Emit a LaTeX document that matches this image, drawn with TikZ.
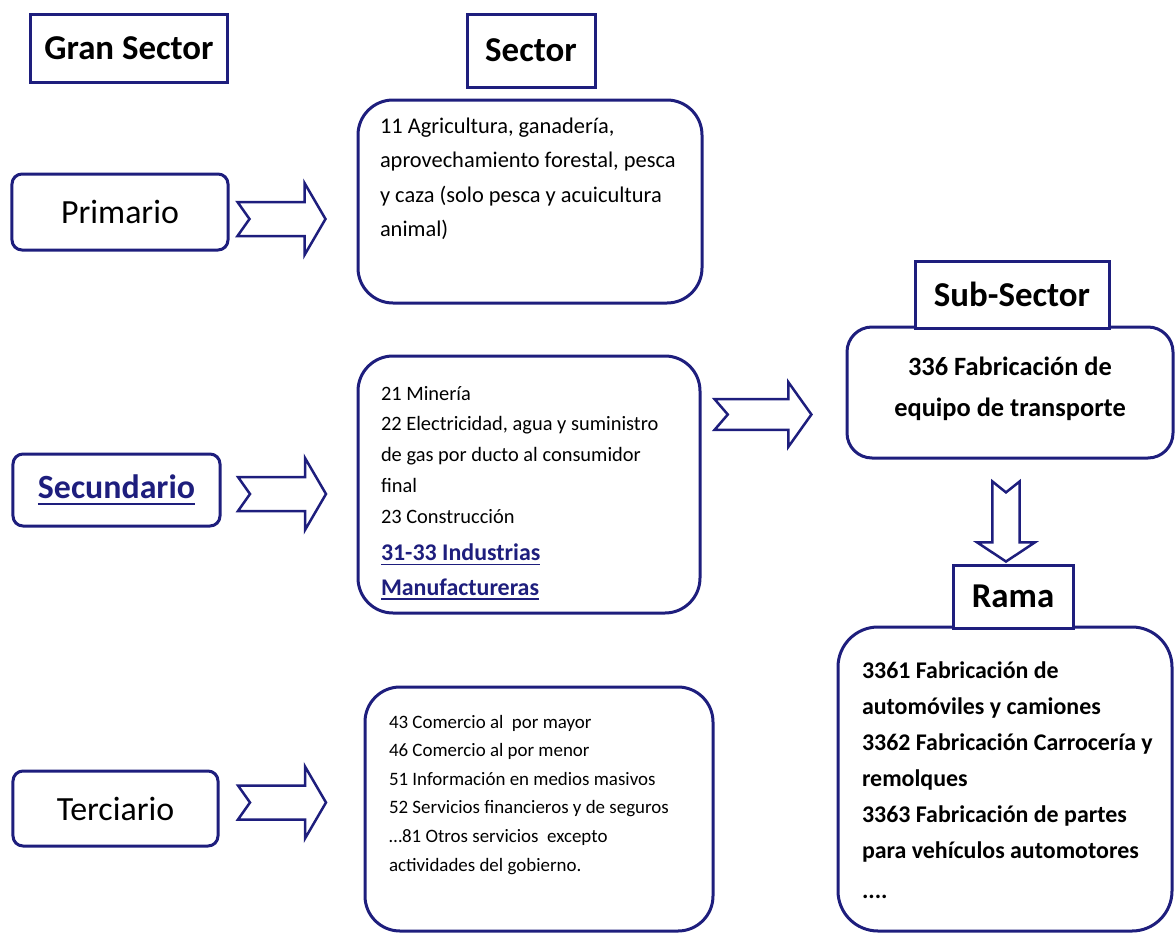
\documentclass[tikz,border=0pt]{standalone}
\usepackage{fontspec}
\setmainfont{Carlito}
\definecolor{boxblue}{RGB}{30,30,125}
% underline that scales with the font
\newcommand{\ulbf}[1]{\setbox0\hbox{#1}\rlap{\raisebox{-0.2em}{\rule{\wd0}{0.07em}}}\box0}
\tikzset{pics/blockarrow/.style={code={
  \draw[draw=boxblue,fill=white,line width=2.5bp,line join=miter]
    (-44,-17) -- (23,-17) -- (23,-36) -- (44,0) -- (23,36) -- (23,17) -- (-44,17) -- (-32,0) -- cycle;}}}
\begin{document}
\begin{tikzpicture}[x=1bp,y=-1bp]
            \tikzstyle{every node}=[inner sep=0pt,line width=3bp]
            \tikzstyle{titlebox}=[draw=boxblue,fill=white,font=\bfseries\fontsize{35}{40}\selectfont]
            \tikzstyle{grandbox}=[draw=boxblue,fill=white,rounded corners=10bp,font=\fontsize{34}{40}\selectfont]
            \tikzstyle{listbox}=[draw=boxblue,fill=white,rounded corners=35bp]
            \tikzstyle{listtext}=[anchor=north west,align=left]
            \useasboundingbox (0,0) rectangle (1175,933);
            \draw (129,48) node[titlebox,minimum width=196bp,minimum height=68bp] (gran) {Gran Sector};
            \draw (531,50.5) node[titlebox,minimum width=128bp,minimum height=73bp] (sect) {Sector};
            \draw (120,212) node[grandbox,minimum width=216bp,minimum height=76bp] (prim) {Primario};
            \draw (116.5,490) node[grandbox,minimum width=207bp,minimum height=72bp,text=boxblue,font=\bfseries\fontsize{34}{40}\selectfont] (secu) {\ulbf{Secundario}};
            \draw (115.5,808.5) node[grandbox,minimum width=205bp,minimum height=75bp] (terc) {Terciario};
            \draw (530,201.5) node[listbox,minimum width=344bp,minimum height=203bp] (agri) {};
            \draw (529,484.5) node[listbox,minimum width=342bp,minimum height=257bp] (indu) {};
            \draw (539,809) node[listbox,minimum width=348bp,minimum height=244bp] (serv) {};
            \draw (1010,392.5) node[listbox,rounded corners=25bp,minimum width=326bp,minimum height=131bp] (subb) {};
            \draw (1005,779) node[listbox,rounded corners=40bp,minimum width=334bp,minimum height=304bp] (ramb) {};
            \draw (1012,294.5) node[titlebox,minimum width=194bp,minimum height=67bp] (subt) {Sub-Sector};
            \draw (1013,596.5) node[titlebox,minimum width=120bp,minimum height=63bp] (ramt) {Rama};
            \draw ([xshift=22bp,yshift=-18bp]agri.north west) node[listtext,font=\fontsize{22.5}{34.5}\selectfont] (agritxt)
              {11 Agricultura, ganadería,\\aprovechamiento forestal, pesca\\y caza (solo pesca y acuicultura\\animal)};
            \draw ([xshift=23bp,yshift=-30bp]indu.north west) node[listtext,font=\fontsize{20.5}{31}\selectfont] (indutxt)
              {21 Minería\\22 Electricidad, agua y suministro\\de gas por ducto al consumidor\\final\\23 Construcción\\[6bp]
               {\color{boxblue}\bfseries\fontsize{24}{31}\selectfont\ulbf{31-33 Industrias}}\\[4bp]
               {\color{boxblue}\bfseries\fontsize{24}{31}\selectfont\ulbf{Manufactureras}}};
            \draw ([xshift=24bp,yshift=-28bp]serv.north west) node[listtext,font=\fontsize{19}{28.7}\selectfont] (servtxt)
              {43 Comercio al\ \ por mayor\\46 Comercio al por menor\\51 Información en medios masivos\\52 Servicios financieros y de seguros\\…81 Otros servicios\ \ excepto\\actividades del gobierno.};
            \draw ([yshift=4bp]subb.center) node[align=center,font=\bfseries\fontsize{26.5}{41}\selectfont] (subbtxt)
              {336 Fabricación de\\equipo de transporte};
            \draw ([xshift=24bp,yshift=-35bp]ramb.north west) node[listtext,font=\bfseries\fontsize{24}{36}\selectfont] (rambtxt)
              {3361 Fabricación de\\automóviles y camiones\\3362 Fabricación Carrocería y\\remolques\\3363 Fabricación de partes\\para vehículos automotores\\[5bp]....};
            \pic at ([xshift=52bp,yshift=-7bp]prim.east) {blockarrow};
            \pic at ([xshift=60.5bp,yshift=-4bp]secu.east) {blockarrow};
            \pic at ([xshift=62.5bp,yshift=6bp]terc.east) {blockarrow};
            \pic[xscale=1.1,yscale=.9] at ([xshift=-82.5bp,yshift=-22bp]subb.west) {blockarrow};
            \pic[rotate=-90,xscale=.91,yscale=.8] at ([xshift=-4bp,yshift=-62bp]subb.south) {blockarrow};
\end{tikzpicture}
\end{document}
